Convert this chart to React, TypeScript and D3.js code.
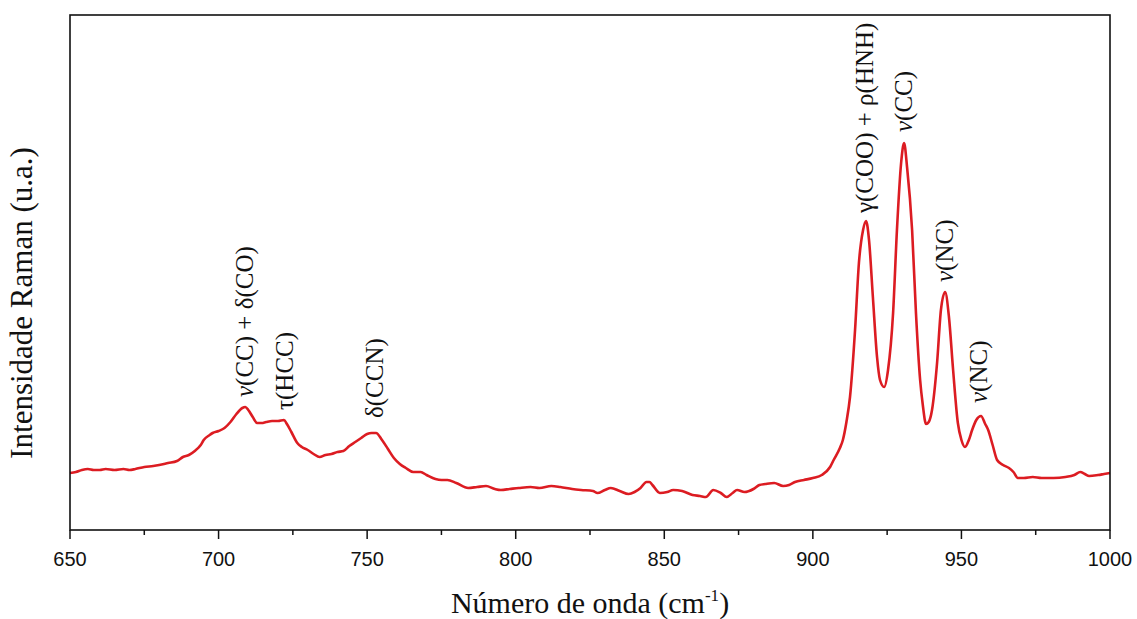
import React from "react";
import * as d3 from "d3";

// Raman spectrum (wavenumber in cm-1, intensity in arbitrary units)
const wavenumbers = [
  650, 652, 654, 656, 658, 660, 662, 665, 668, 670, 672, 675, 678, 680, 683, 686, 688, 690, 692, 694,
  695, 697, 698, 700, 702, 704, 706, 708, 709, 710, 711.5, 713, 714.5, 716, 718, 720, 722, 723, 724.5, 726.5,
  728, 730, 732, 734, 736, 738, 740, 742, 744, 746, 748, 750, 751.5, 753, 755, 757, 759, 761, 763, 765.5,
  768, 770, 773, 775, 777, 780, 784, 787, 790, 793, 795, 798, 801, 805, 808, 812, 815, 819, 822, 826,
  827.5, 830, 832, 835, 838, 840, 842, 844, 845, 846, 848.5, 851, 853, 856, 859.5, 862, 864, 866.5, 869, 871,
  873, 874.5, 877, 880, 882, 884, 887, 890, 892, 894, 897, 900, 903, 905.8, 907, 909.1, 910.1, 911.3, 912.5, 914.2,
  915.5, 916.9, 917.9, 918.9, 920.2, 921.6, 922.6, 924, 925.3, 927, 928.3, 929.7, 930.7, 931.7, 933.4, 934.7, 936.1, 937, 938.1, 939,
  940.1, 941.8, 943.1, 944.5, 945.8, 947.2, 948.8, 950, 951.2, 952.5, 953.6, 955, 956.6, 958, 959, 960.5, 962, 964, 966, 967.5,
  969, 971, 974, 977, 981, 985, 988, 990, 991.5, 993, 996, 998, 1000,
];
const intensities = [
  57, 58, 60, 61, 60, 60, 61, 60, 61, 60, 61, 63, 64, 65, 67, 69, 73, 75, 79, 85,
  90, 95, 97, 99, 102, 108, 116, 122, 123, 120, 113, 107, 107, 108, 109, 109, 110, 106, 98, 87,
  83, 80, 76, 73, 75, 76, 78, 79, 84, 88, 92, 96, 97, 97, 90, 81, 72, 66, 62, 58,
  58, 55, 51, 50, 50, 47, 42, 43, 44, 41, 40, 41, 42, 43, 42, 44, 43, 41, 40, 39,
  37, 40, 42, 39, 36, 38, 42, 48, 48, 45, 37, 38, 40, 39, 35, 34, 33, 40, 37, 33,
  37, 40, 38, 41, 45, 46, 47, 44, 45, 48, 50, 52, 55, 63, 70, 82, 90, 108, 133, 200,
  267, 300, 309, 290, 233, 173, 150, 143, 160, 217, 300, 367, 387, 363, 300, 217, 150, 125, 106, 108,
  120, 167, 220, 238, 213, 160, 107, 90, 83, 90, 100, 110, 114, 106, 100, 85, 70, 65, 62, 58,
  52, 52, 53, 52, 52, 53, 55, 58, 56, 54, 55, 56, 57,
];

const xDomain = [650, 1000];
const yDomain = [0, 515];
const xMajorTicks = [650, 700, 750, 800, 850, 900, 950, 1000];
const xMinorTicks = [675, 725, 775, 825, 875, 925, 975];

// Band assignments: nu prefix, text, wavenumber, intensity level where label starts
const labelPrefix = ["ν", "", "", "", "ν", "ν", "ν"];
const labelText = ["(CC) + δ(CO)", "τ(HCC)", "δ(CCN)", "γ(COO) + ρ(HNH)", "(CC)", "(NC)", "(NC)"];
const labelWn = [708.9, 722.4, 752.6, 917.5, 930.7, 944.5, 955.9];
const labelLevel = [133, 120, 112, 317, 398, 248, 127];

const W = 1137;
const H = 619;
const M = { left: 70, right: 27, top: 15, bottom: 89 };

const serif = "'Liberation Serif', 'Times New Roman', serif";
const sans = "'Liberation Sans', Arial, sans-serif";

export default function App() {
  const x = d3.scaleLinear().domain(xDomain).range([M.left, W - M.right]);
  const y = d3.scaleLinear().domain(yDomain).range([H - M.bottom, M.top]);
  const data = wavenumbers.map((w, i) => [w, intensities[i]] as [number, number]);
  const line = d3
    .line<[number, number]>()
    .x((d) => x(d[0]))
    .y((d) => y(d[1]))
    .curve(d3.curveMonotoneX);
  const x0 = M.left;
  const x1 = W - M.right;
  const y0 = H - M.bottom;
  const y1 = M.top;

  return (
    <svg
      width={W}
      height={H}
      style={{ position: "absolute", left: 0, top: 0, background: "#fff" }}
    >
      <rect x={0} y={0} width={W} height={H} fill="#fff" />
      <path d={line(data) || ""} fill="none" stroke="#dc1c22" strokeWidth={2.6} strokeLinejoin="round" />
      <rect x={x0} y={y1} width={x1 - x0} height={y0 - y1} fill="none" stroke="#111" strokeWidth={1.6} />
      {xMajorTicks.map((t) => (
        <g key={"M" + t}>
          <line x1={x(t)} x2={x(t)} y1={y0} y2={y0 + 9} stroke="#111" strokeWidth={1.5} />
          <text x={x(t)} y={y0 + 36} textAnchor="middle" fontFamily={sans} fontSize={20} fill="#111">
            {t}
          </text>
        </g>
      ))}
      {xMinorTicks.map((t) => (
        <line key={"m" + t} x1={x(t)} x2={x(t)} y1={y0} y2={y0 + 5} stroke="#111" strokeWidth={1.5} />
      ))}
      <text x={(x0 + x1) / 2} y={613} textAnchor="middle" fontFamily={serif} fontSize={30} fill="#111">
        Número de onda (cm
        <tspan dy={-12} fontSize={17}>-1</tspan>
        <tspan dy={12}>)</tspan>
      </text>
      <text
        transform={`translate(32, 303) rotate(-90)`}
        textAnchor="middle"
        fontFamily={serif}
        fontSize={31}
        fill="#111"
      >
        Intensidade Raman (u.a.)
      </text>
      {labelText.map((t, i) => (
        <text
          key={"l" + i}
          transform={`translate(${x(labelWn[i]) + 8}, ${y(labelLevel[i])}) rotate(-90)`}
          fontFamily={serif}
          fontSize={25}
          fill="#111"
        >
          {labelPrefix[i] ? <tspan fontStyle="italic">{labelPrefix[i]}</tspan> : null}
          {t}
        </text>
      ))}
    </svg>
  );
}
